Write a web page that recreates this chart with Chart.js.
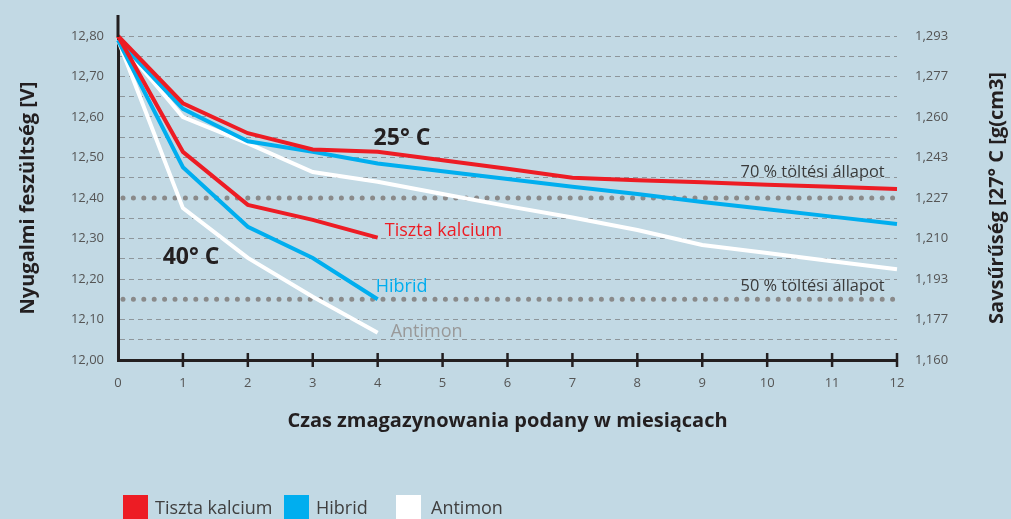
<!DOCTYPE html>
<html>
<head>
<meta charset="utf-8">
<script src="https://cdn.jsdelivr.net/npm/chart.js@4.4.1/dist/chart.umd.min.js"></script>
<style>
  html, body { margin: 0; padding: 0; background: #c2d9e4; }
  #wrap { width: 1011px; height: 519px; position: relative; }
</style>
</head>
<body>
<div id="wrap"><canvas id="chart" width="1011" height="519"></canvas></div>
<script>
// Storage time in months
const months = [0, 1, 2, 3, 4, 5, 6, 7, 8, 9, 10, 11, 12];

// Open-circuit voltage [V] at 25 °C
const kalcium25 = [12.80, 12.634, 12.56, 12.52, 12.514, 12.493, 12.472, 12.45, 12.444, 12.439, 12.433, 12.428, 12.422];
const hibrid25  = [12.79, 12.62, 12.54, 12.514, 12.485, 12.466, 12.447, 12.428, 12.41, 12.39, 12.372, 12.354, 12.336];
const antimon25 = [12.79, 12.60, 12.535, 12.464, 12.44, 12.41, 12.38, 12.352, 12.321, 12.284, 12.264, 12.244, 12.224];

// Open-circuit voltage [V] at 40 °C (first 4 months)
const kalcium40 = [12.80, 12.514, 12.383, 12.346, 12.302];
const hibrid40  = [12.79, 12.476, 12.329, 12.252, 12.15];
const antimon40 = [12.79, 12.375, 12.252, 12.156, 12.067];

// Right axis: acid density at 27 °C, one label per 0.1 V
const densityLabels = ['1,160', '1,177', '1,193', '1,210', '1,227', '1,243', '1,260', '1,277', '1,293'];

// State-of-charge reference levels (dotted lines)
const chargeLevels = [12.40, 12.15];

const seriesNames = ['Tiszta kalcium', 'Hibrid', 'Antimon'];
const seriesColors = ['#ed1c24', '#00aeef', '#ffffff'];

// Text notes placed in data coordinates
const notes = [
    { text: '25° C', x: 4.375, y: 12.546, color: '#231f20', font: 'bold 23px "Open Sans"', align: 'center' },
    { text: '40° C', x: 1.125, y: 12.254, color: '#231f20', font: 'bold 23px "Open Sans"', align: 'center' },
    { text: 'Tiszta kalcium', x: 4.11, y: 12.319, color: '#ed1c24', font: '18px "Open Sans"', align: 'left' },
    { text: 'Hibrid', x: 3.97, y: 12.18, color: '#00aeef', font: '18px "Open Sans"', align: 'left' },
    { text: 'Antimon', x: 4.2, y: 12.069, color: '#999999', font: '18px "Open Sans"', align: 'left' },
    { text: '70 % töltési állapot', x: 11.81, y: 12.464, color: '#3a3a3a', font: '16.4px "Open Sans"', align: 'right' },
    { text: '50 % töltési állapot', x: 11.81, y: 12.183, color: '#3a3a3a', font: '16.4px "Open Sans"', align: 'right' }
];

const toPoints = (vals) => vals.map((v, i) => ({ x: months[i], y: v }));

const lineDs = (label, vals, color) => ({
    label: label,
    data: toPoints(vals),
    borderColor: color,
    backgroundColor: color,
    borderWidth: 4,
    pointRadius: 0,
    tension: 0,
    fill: false,
    clip: false
});

const overlay = {
    id: 'overlay',
    beforeDatasetsDraw(chart) {
        const { ctx, chartArea: { left, right }, scales: { y } } = chart;
        ctx.save();
        ctx.strokeStyle = '#8a8a8a';
        ctx.lineWidth = 5;
        ctx.lineCap = 'round';
        ctx.setLineDash([0, 10.4]);
        chargeLevels.forEach(v => {
            const py = y.getPixelForValue(v);
            ctx.beginPath();
            ctx.moveTo(left + 5, py);
            ctx.lineTo(right, py);
            ctx.stroke();
        });
        ctx.restore();
    },
    afterDraw(chart) {
        const { ctx, chartArea: { left, top, bottom }, scales: { x, y } } = chart;
        ctx.save();

        // axis extension above the top and tick marks through the x axis
        ctx.strokeStyle = '#231f20';
        ctx.lineWidth = 3;
        ctx.beginPath();
        ctx.moveTo(left, top - 21);
        ctx.lineTo(left, top + 1);
        ctx.stroke();
        ctx.lineWidth = 2.5;
        months.slice(1).forEach(m => {
            const px = x.getPixelForValue(m);
            ctx.beginPath();
            ctx.moveTo(px, bottom - 7);
            ctx.lineTo(px, bottom + 7);
            ctx.stroke();
        });

        // notes
        ctx.textBaseline = 'middle';
        notes.forEach(n => {
            ctx.font = n.font;
            ctx.fillStyle = n.color;
            ctx.textAlign = n.align;
            ctx.fillText(n.text, x.getPixelForValue(n.x), y.getPixelForValue(n.y));
        });

        // right axis title, reading bottom to top
        ctx.save();
        ctx.translate(997, (top + bottom) / 2);
        ctx.rotate(-Math.PI / 2);
        ctx.font = 'bold 20px "Open Sans"';
        ctx.fillStyle = '#231f20';
        ctx.textAlign = 'center';
        ctx.fillText('Savsűrűség [27° C [g(cm3]', 0, 0);
        ctx.restore();

        // legend
        const boxX = [123, 284, 396];
        ctx.font = '18px "Open Sans"';
        ctx.textAlign = 'left';
        seriesNames.forEach((name, i) => {
            ctx.fillStyle = seriesColors[i];
            ctx.fillRect(boxX[i], 495, 25, 25);
            ctx.fillStyle = '#404040';
            ctx.fillText(name, boxX[i] + (i === 2 ? 35 : 32), 509);
        });
        ctx.restore();
    }
};

new Chart(document.getElementById('chart'), {
    type: 'line',
    data: {
        datasets: [
            lineDs('Tiszta kalcium 25', kalcium25, seriesColors[0]),
            lineDs('Tiszta kalcium 40', kalcium40, seriesColors[0]),
            lineDs('Hibrid 25', hibrid25, seriesColors[1]),
            lineDs('Hibrid 40', hibrid40, seriesColors[1]),
            lineDs('Antimon 25', antimon25, seriesColors[2]),
            lineDs('Antimon 40', antimon40, seriesColors[2])
        ]
    },
    options: {
        responsive: false,
        animation: false,
        layout: { padding: { left: 0, right: 0, top: 36, bottom: 84 } },
        plugins: {
            legend: { display: false },
            tooltip: { enabled: false }
        },
        scales: {
            x: {
                type: 'linear',
                min: 0,
                max: 12,
                afterFit: s => { s.height = 75; },
                ticks: { stepSize: 1, padding: 15, color: '#555', font: { family: 'Open Sans', size: 13 } },
                grid: { display: false, drawTicks: false },
                border: { display: true, color: '#231f20', width: 3 },
                title: {
                    display: true,
                    text: 'Czas zmagazynowania podany w miesiącach',
                    color: '#231f20',
                    font: { family: 'Open Sans', size: 20, weight: 'bold' },
                    padding: { top: 0, bottom: 2 }
                }
            },
            y: {
                position: 'left',
                min: 12,
                max: 12.8,
                afterFit: s => { s.width = 118; },
                ticks: {
                    stepSize: 0.05,
                    autoSkip: false,
                    padding: 14,
                    color: '#555',
                    font: { family: 'Open Sans', size: 13 },
                    callback: v => {
                        const k = Math.round(v * 100);
                        return k % 10 === 0 ? (k / 100).toFixed(2).replace('.', ',') : '';
                    }
                },
                grid: {
                    drawTicks: false,
                    lineWidth: 1,
                    color: c => {
                        const k = c.tick ? Math.round(c.tick.value * 100) : 0;
                        return chargeLevels.some(l => Math.round(l * 100) === k) ? 'rgba(0,0,0,0)' : '#8e969b';
                    }
                },
                border: { display: true, color: '#231f20', width: 3, dash: [5, 4] },
                title: {
                    display: true,
                    text: 'Nyugalmi feszültség [V]',
                    color: '#231f20',
                    font: { family: 'Open Sans', size: 20, weight: 'bold' },
                    padding: { top: 16, bottom: 0 }
                }
            },
            y2: {
                position: 'right',
                min: 12,
                max: 12.8,
                afterFit: s => { s.width = 114; },
                ticks: {
                    stepSize: 0.1,
                    autoSkip: false,
                    padding: 18,
                    color: '#555',
                    font: { family: 'Open Sans', size: 13 },
                    callback: v => densityLabels[Math.round((v - 12) * 10)] || ''
                },
                grid: { display: false, drawTicks: false },
                border: { display: false }
            }
        }
    },
    plugins: [overlay]
});
</script>
</body>
</html>
